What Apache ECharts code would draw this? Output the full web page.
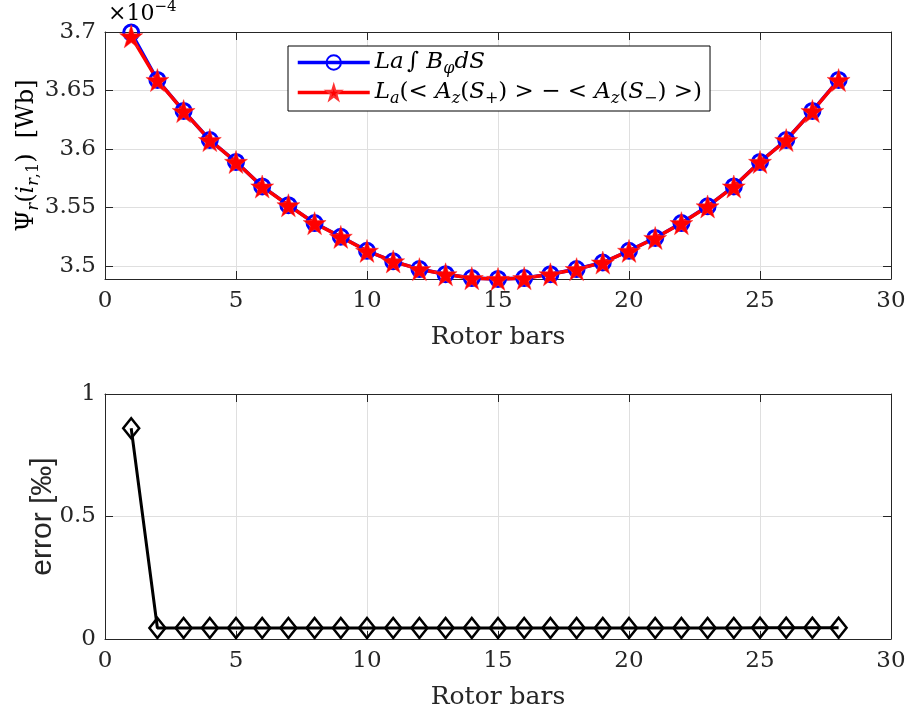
<!DOCTYPE html>
<html>
<head>
<meta charset="utf-8">
<style>
  html, body { margin: 0; padding: 0; background: #fff; }
  #chart { width: 913px; height: 718px; }
</style>
<script src="https://cdn.jsdelivr.net/npm/echarts@6/dist/echarts.min.js"></script>
</head>
<body>
<div id="chart"></div>
<script>
// rotor bar index
const rotorBars = [1, 2, 3, 4, 5, 6, 7, 8, 9, 10, 11, 12, 13, 14, 15, 16, 17, 18, 19, 20, 21, 22, 23, 24, 25, 26, 27, 28];
// flux, x1e-4 Wb
const fluxIntegral = [3.6995, 3.659, 3.6325, 3.6077, 3.589, 3.568, 3.552, 3.5367, 3.525, 3.513, 3.504, 3.4974, 3.493, 3.4897,
  3.489, 3.4897, 3.493, 3.4974, 3.503, 3.513, 3.524, 3.5367, 3.551, 3.568, 3.589, 3.6077, 3.6325, 3.659];
const fluxPotential = [3.6963, 3.6589, 3.6324, 3.6076, 3.5889, 3.5679, 3.5519, 3.5366, 3.5249, 3.5129, 3.5039, 3.4973, 3.4929, 3.4896,
  3.4889, 3.4896, 3.4929, 3.4973, 3.5029, 3.5129, 3.5239, 3.5366, 3.5509, 3.5679, 3.5889, 3.6076, 3.6324, 3.6589];
// error in permille
const errorPermille = [0.86, 0.045, 0.045, 0.045, 0.045, 0.045, 0.045, 0.045, 0.045, 0.045, 0.045, 0.045, 0.045, 0.045,
  0.045, 0.045, 0.045, 0.045, 0.045, 0.045, 0.045, 0.045, 0.045, 0.045, 0.046, 0.046, 0.046, 0.046];
const fluxTicks = [3.5, 3.55, 3.6, 3.65, 3.7];

const serif = "'DejaVu Serif', 'Liberation Serif', serif";
const axisColor = "#262626";
const starPath = "path://M50,0 L61,35 L98,35 L68,57 L79,91 L50,70 L21,91 L32,57 L2,35 L39,35 Z";
const tickFont = { fontFamily: serif, fontSize: 23, color: axisColor };

function mathRich(size) {
  const sub = Math.round(size * 0.68);
  return {
    n: { fontFamily: serif, fontSize: size, color: "#000", lineHeight: size + 6 },
    i: { fontFamily: serif, fontSize: size, fontStyle: "italic", color: "#000", lineHeight: size + 6 },
    sub: { fontFamily: serif, fontSize: sub, fontStyle: "italic", color: "#000", lineHeight: sub, verticalAlign: "bottom" },
    subn: { fontFamily: serif, fontSize: sub, color: "#000", lineHeight: sub, verticalAlign: "bottom" },
  };
}

const legendNames = {
  flux1: "{i|La} {i|∫ B}{sub|φ}{i|dS}",
  flux2: "{i|L}{sub|a}{n|(< }{i|A}{sub|z}{n|(}{i|S}{subn|+}{n|) > − < }{i|A}{sub|z}{n|(}{i|S}{subn|−}{n|) >)}",
};

function xAxisFor(gridIndex) {
  return [
    {
      gridIndex: gridIndex,
      type: "value",
      min: 0,
      max: 30,
      interval: 5,
      name: "Rotor bars",
      nameLocation: "middle",
      nameGap: 46,
      nameMoveOverlap: false,
      nameTextStyle: { fontFamily: serif, fontSize: 25, color: axisColor },
      axisLine: { lineStyle: { color: axisColor } },
      axisTick: { inside: true, length: 8, lineStyle: { color: axisColor } },
      axisLabel: { ...tickFont, margin: 11 },
      splitLine: { show: true, lineStyle: { color: "#dfdfdf" } },
    },
    {
      gridIndex: gridIndex,
      type: "value",
      position: "top",
      min: 0,
      max: 30,
      interval: 5,
      axisLine: { show: true, onZero: false, lineStyle: { color: axisColor } },
      axisTick: { inside: true, length: 8, lineStyle: { color: axisColor } },
      axisLabel: { show: false },
      splitLine: { show: false },
    },
  ];
}

const chart = echarts.init(document.getElementById("chart"));

chart.setOption({
  animation: false,
  backgroundColor: "#fff",
  grid: [
    { left: 105, top: 32, width: 786, height: 247, containLabel: false, outerBoundsMode: "none" },
    { left: 105, top: 394, width: 786, height: 245, containLabel: false, outerBoundsMode: "none" },
  ],
  legend: {
    data: ["flux1", "flux2"],
    orient: "vertical",
    left: 288,
    top: 46,
    padding: [5, 8, 4, 8],
    itemGap: 4,
    itemWidth: 72,
    itemHeight: 18,
    backgroundColor: "#fff",
    borderColor: "#000",
    borderWidth: 1,
    borderRadius: 0,
    lineStyle: { width: 3.5 },
    formatter: (name) => legendNames[name],
    textStyle: { rich: mathRich(23) },
  },
  graphic: [
    {
      type: "text",
      left: 108,
      top: 0,
      style: {
        text: "{n|×10}{sup|−4}",
        rich: {
          n: { fontFamily: serif, fontSize: 22, color: axisColor, lineHeight: 28 },
          sup: { fontFamily: serif, fontSize: 15, color: axisColor, lineHeight: 15, verticalAlign: "top" },
        },
      },
    },
  ],
  xAxis: [...xAxisFor(0), ...xAxisFor(1)],
  yAxis: [
    {
      gridIndex: 0,
      type: "value",
      min: 3.4889,
      max: 3.7,
      name: "{n|Ψ}{sub|r}{n|(}{i|i}{sub|r}{subn|,1}{n|)  [Wb]}",
      nameLocation: "middle",
      nameGap: 63,
      nameMoveOverlap: false,
      nameTextStyle: { rich: mathRich(24) },
      axisLine: { lineStyle: { color: axisColor } },
      axisTick: { inside: true, length: 8, customValues: fluxTicks, lineStyle: { color: axisColor } },
      axisLabel: { ...tickFont, customValues: fluxTicks, margin: 9 },
      splitLine: { show: true, lineStyle: { color: "#dfdfdf" } },
    },
    {
      gridIndex: 0,
      type: "value",
      position: "right",
      min: 3.4889,
      max: 3.7,
      axisLine: { show: true, onZero: false, lineStyle: { color: axisColor } },
      axisTick: { inside: true, length: 8, customValues: fluxTicks, lineStyle: { color: axisColor } },
      axisLabel: { show: false },
      splitLine: { show: false },
    },
    {
      gridIndex: 1,
      type: "value",
      min: 0,
      max: 1,
      interval: 0.5,
      name: "error [‰]",
      nameLocation: "middle",
      nameGap: 47,
      nameMoveOverlap: false,
      nameTextStyle: { fontFamily: "'Liberation Sans', Arial, sans-serif", fontSize: 30, color: axisColor },
      axisLine: { lineStyle: { color: axisColor } },
      axisTick: { inside: true, length: 8, lineStyle: { color: axisColor } },
      axisLabel: { ...tickFont, margin: 9 },
      splitLine: { show: true, lineStyle: { color: "#dfdfdf" } },
    },
    {
      gridIndex: 1,
      type: "value",
      position: "right",
      min: 0,
      max: 1,
      interval: 0.5,
      axisLine: { show: true, onZero: false, lineStyle: { color: axisColor } },
      axisTick: { inside: true, length: 8, lineStyle: { color: axisColor } },
      axisLabel: { show: false },
      splitLine: { show: false },
    },
  ],
  series: [
    {
      name: "flux1",
      type: "line",
      xAxisIndex: 0,
      yAxisIndex: 0,
      clip: false,
      data: rotorBars.map((x, i) => [x, fluxIntegral[i]]),
      symbol: "circle",
      symbolSize: 15,
      showAllSymbol: true,
      lineStyle: { color: "#0000ff", width: 3.5 },
      itemStyle: { color: "transparent", borderColor: "#0000ff", borderWidth: 3 },
    },
    {
      name: "flux2",
      type: "line",
      xAxisIndex: 0,
      yAxisIndex: 0,
      clip: false,
      data: rotorBars.map((x, i) => [x, fluxPotential[i]]),
      symbol: starPath,
      symbolSize: 23,
      showAllSymbol: true,
      lineStyle: { color: "#ff0000", width: 3.5 },
      itemStyle: { color: "#ff0000", borderColor: "#ff3030", borderWidth: 0.5 },
    },
    {
      name: "error",
      type: "line",
      xAxisIndex: 2,
      yAxisIndex: 2,
      data: rotorBars.map((x, i) => [x, errorPermille[i]]),
      symbol: "diamond",
      symbolSize: [16, 20],
      showAllSymbol: true,
      lineStyle: { color: "#000", width: 3 },
      itemStyle: { color: "transparent", borderColor: "#000", borderWidth: 2.5 },
    },
  ],
});
</script>
</body>
</html>
